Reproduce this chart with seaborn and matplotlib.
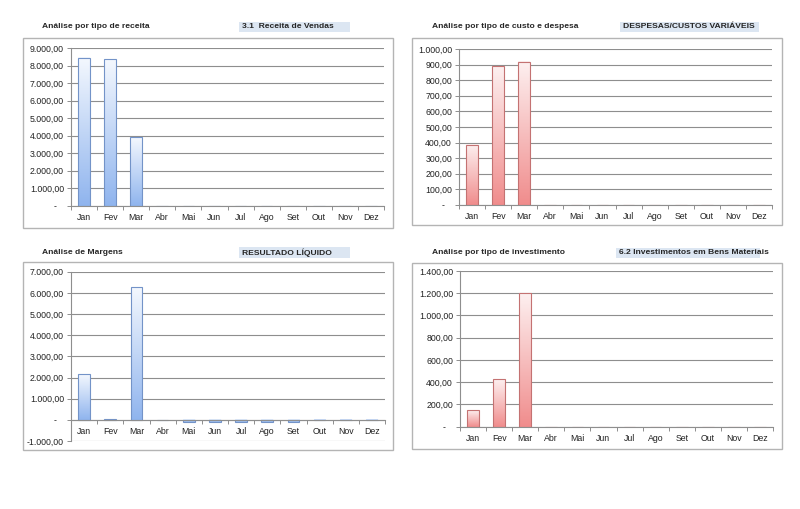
import matplotlib
matplotlib.use("Agg")
import matplotlib.pyplot as plt
import numpy as np
import pandas as pd
import seaborn as sns
from matplotlib.colors import LinearSegmentedColormap
from matplotlib.patches import Rectangle
from matplotlib.ticker import FuncFormatter, FixedLocator

W, H = 800, 509

months = ["Jan", "Fev", "Mar", "Abr", "Mai", "Jun", "Jul", "Ago", "Set", "Out", "Nov", "Dez"]

receita = [8470, 8380, 3930, 0, 0, 0, 0, 0, 0, 0, 0, 0]
custos = [387, 889, 917, 0, 0, 0, 0, 0, 0, 0, 0, 0]
margens = [2150, 40, 6260, 0, -100, -100, -100, -100, -100, -15, -10, -10]
investimento = [150, 430, 1200, 0, 0, 0, 0, 0, 0, 0, 0, 0]

titles = ["Análise por tipo de receita", "Análise por tipo de custo e despesa",
          "Análise de Margens", "Análise por tipo de investimento"]
labels = ["3.1  Receita de Vendas", "DESPESAS/CUSTOS VARIÁVEIS",
          "RESULTADO LÍQUIDO", "6.2 Investimentos em Bens Materiais"]

sns.set_style("white")
plt.rcParams["font.family"] = ["Liberation Sans", "DejaVu Sans"]

BLUE = LinearSegmentedColormap.from_list("b", ["#f4f8fe", "#8fb4ee"])
RED = LinearSegmentedColormap.from_list("r", ["#fdf0f0", "#f08c8c"])
GRID = "#8e8e8e"


def rect(x0, y0, x1, y1):
    return [x0 / W, 1 - y1 / H, (x1 - x0) / W, (y1 - y0) / H]


def br_number(v, pos=None):
    if abs(v) < 1e-9:
        return "-   "
    s = f"{v:,.2f}"
    return s.replace(",", "X").replace(".", ",").replace("X", ".")


def draw_panel(fig, values, box, ax_rect, title_xy, label_box, title, label,
               yticks, cmap, edge):
    # chart border
    x0, y0, x1, y1 = box
    fig.patches.append(Rectangle((x0 / W, 1 - y1 / H), (x1 - x0) / W, (y1 - y0) / H,
                                 transform=fig.transFigure, fill=False,
                                 edgecolor="#b4b4b4", linewidth=1.0))
    fig.text(title_xy[0] / W, 1 - title_xy[1] / H, title, fontsize=6.1,
             fontweight="bold", va="center", ha="left")
    lx0, ly0, lx1, ly1 = label_box
    fig.patches.append(Rectangle((lx0 / W, 1 - ly1 / H), (lx1 - lx0) / W, (ly1 - ly0) / H,
                                 transform=fig.transFigure, facecolor="#dce6f2",
                                 edgecolor="none"))
    fig.text((lx0 + 3) / W, 1 - (ly0 + ly1) / 2 / H, label, fontsize=6.1,
             fontweight="bold", va="center", ha="left")

    ax = fig.add_axes(rect(*ax_rect))
    df = pd.DataFrame({"mes": months, "valor": values})
    sns.barplot(data=df, x="mes", y="valor", order=months, width=0.45, ax=ax,
                color="white", edgecolor=edge, linewidth=0.8)

    # vertical gradient fill under each bar outline
    grad = np.linspace(1, 0, 256).reshape(-1, 1)
    for p in ax.patches:
        bx, by, bw, bh = p.get_x(), p.get_y(), p.get_width(), p.get_height()
        p.set_facecolor("none")
        p.set_zorder(4)
        if abs(bh) < 1e-9:
            continue
        lo, hi = min(by, by + bh), max(by, by + bh)
        ax.imshow(grad, extent=[bx, bx + bw, lo, hi], origin="lower",
                  aspect="auto", cmap=cmap, vmin=0, vmax=1, zorder=3,
                  interpolation="bilinear")

    ax.set_xlim(-0.5, len(months) - 0.5)
    ax.set_ylim(yticks[0], yticks[-1])
    ax.set_yticks(yticks)
    ax.yaxis.set_major_formatter(FuncFormatter(br_number))
    ax.set_xlabel("")
    ax.set_ylabel("")

    ax.grid(axis="y", color=GRID, linewidth=0.8, zorder=0)
    ax.grid(axis="x", visible=False)
    ax.set_axisbelow(True)
    for s in ["top", "right"]:
        ax.spines[s].set_visible(False)
    for s in ["left", "bottom"]:
        ax.spines[s].set_color(GRID)
        ax.spines[s].set_linewidth(0.8)
        ax.spines[s].set_zorder(5)
    if yticks[0] < 0:
        ax.spines["bottom"].set_position(("data", 0))

    ax.xaxis.set_minor_locator(FixedLocator(np.arange(-0.5, len(months), 1.0)))
    ax.tick_params(axis="x", which="major", length=0, labelsize=6.3, pad=5,
                   labelcolor="#222222")
    ax.tick_params(axis="x", which="minor", length=3, width=0.7, color=GRID,
                   direction="out", bottom=True)
    ax.tick_params(axis="y", length=3, width=0.7, color=GRID, direction="out",
                   labelsize=6.3, pad=2, left=True, labelcolor="#222222")
    return ax


fig = plt.figure(figsize=(W / 100, H / 100), dpi=100)

draw_panel(fig, receita, (23, 38, 393, 228), (71, 48.3, 384, 205.7), (42, 27),
           (239, 22, 350, 32), titles[0], labels[0],
           list(range(0, 9001, 1000)), BLUE, "#7393c8")
draw_panel(fig, custos, (412, 38, 782, 225), (459, 49, 772, 205), (432, 27),
           (620, 22, 759, 32), titles[1], labels[1],
           list(range(0, 1001, 100)), RED, "#c47272")
draw_panel(fig, margens, (23, 262, 393, 450), (71, 271.7, 385, 441), (42, 253),
           (239, 247, 350, 258), titles[2], labels[2],
           list(range(-1000, 7001, 1000)), BLUE, "#7393c8")
draw_panel(fig, investimento, (412, 263, 782, 449), (460, 271, 773, 426.7), (432, 253),
           (616, 248, 760, 258), titles[3], labels[3],
           list(range(0, 1401, 200)), RED, "#c47272")

fig.savefig("out.png", dpi=100, facecolor="white")
